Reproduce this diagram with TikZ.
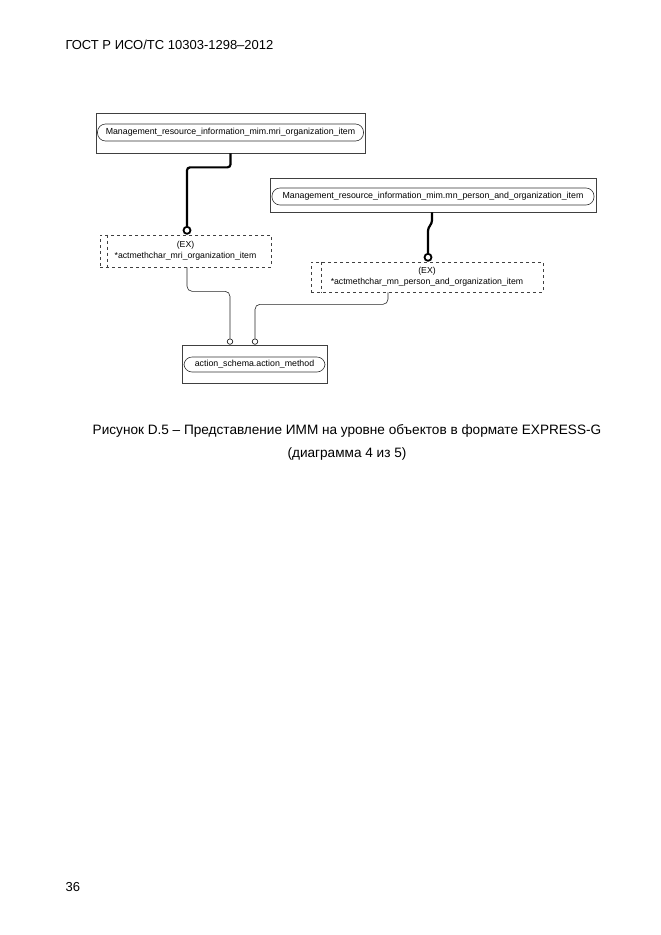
\documentclass[tikz,border=0pt]{standalone}
\usepackage{fontspec}
\setmainfont{Liberation Sans}
\tikzset{
    entbox/.style={draw=black!75, line width=0.7pt, inner sep=0pt},
    pill/.style={draw=black!80, line width=0.6pt, rounded corners=8pt, inner sep=0pt,
        font=\fontsize{8.8}{10}\selectfont},
    exbox/.style={draw=black!75, dashed, line width=0.6pt, inner sep=0pt, align=center,
        font=\fontsize{8.7}{11}\selectfont},
    thickrel/.style={line width=2.2pt, rounded corners=3pt},
    thinrel/.style={draw=black!85, line width=0.6pt, rounded corners=5pt},
    bigo/.style={circle, draw, line width=1.8pt, fill=white, minimum size=7pt, inner sep=0pt},
    smallo/.style={circle, draw, line width=0.6pt, fill=white, minimum size=5.5pt, inner sep=0pt}
}
\begin{document}
\begin{tikzpicture}[x=1pt, y=-1pt]
    \useasboundingbox (0,0) rectangle (661,935);

    \node[anchor=west, font=\fontsize{13}{15}\selectfont] (hdr) at (62,45) {ГОСТ Р ИСО/ТС 10303-1298–2012};

    % entities
    \node[entbox, minimum width=269pt, minimum height=40pt] (mribox) at (230.5,133) {};
    \node[pill, minimum width=266pt, minimum height=17pt] (mri) at (230.5,132.5)
        {Management\_resource\_information\_mim.mri\_organization\_item};
    \node[entbox, minimum width=326pt, minimum height=34pt] (mnbox) at (433,195) {};
    \node[pill, minimum width=322pt, minimum height=17pt] (mn) at (433,196.5)
        {Management\_resource\_information\_mim.mn\_person\_and\_organization\_item};
    \node[entbox, minimum width=145pt, minimum height=38pt] (ambox) at (254.5,364) {};
    \node[pill, minimum width=141pt, minimum height=15pt] (am) at (254.5,364.5)
        {action\_schema.action\_method};

    % select extensions
    \node[exbox, minimum width=171pt, minimum height=32pt] (ex1) at (185.5,251)
        {(EX)\\*actmethchar\_mri\_organization\_item};
    \node[exbox, minimum width=232pt, minimum height=30pt] (ex2) at (427,277)
        {(EX)\\*actmethchar\_mn\_person\_and\_organization\_item};
    \draw[black!75, dashed, line width=0.6pt] ([xshift=8pt]ex1.north west) -- ([xshift=8pt]ex1.south west);
    \draw[black!75, dashed, line width=0.6pt] ([xshift=11pt]ex2.north west) -- ([xshift=11pt]ex2.south west);

    \node[bigo, anchor=south] (o1) at ([xshift=1.5pt]ex1.north) {};
    \node[bigo, anchor=south] (o2) at ([xshift=1pt]ex2.north) {};
    \node[smallo, anchor=south] (p1) at ([xshift=-24.5pt]ambox.north) {};
    \node[smallo, anchor=south] (p2) at ([xshift=0.5pt]ambox.north) {};

    % connectors
    \draw[thickrel] (mribox.south) -- ++(0,14) -| (o1.north);
    \draw[thickrel] ([xshift=-1pt]mnbox.south) -- ++(0,11) -- ([yshift=25pt]o2.north) -- (o2.north);
    \draw[thinrel] (ex1.south) ++(1.5,0) -- ++(0,24) -| (p1.north);
    \draw[thinrel] ([xshift=-39pt]ex2.south) -- ++(0,12) -| (p2.north);

    % caption
    \node[font=\fontsize{13.6}{15}\selectfont] (cap1) at (347,431)
        {Рисунок D.5 – Представление ИММ на уровне объектов в формате EXPRESS-G};
    \node[font=\fontsize{13.6}{15}\selectfont] (cap2) at (347,454) {(диаграмма 4 из 5)};

    \node[anchor=west, font=\fontsize{13}{15}\selectfont] (pg) at (62,887) {36};
\end{tikzpicture}
\end{document}
